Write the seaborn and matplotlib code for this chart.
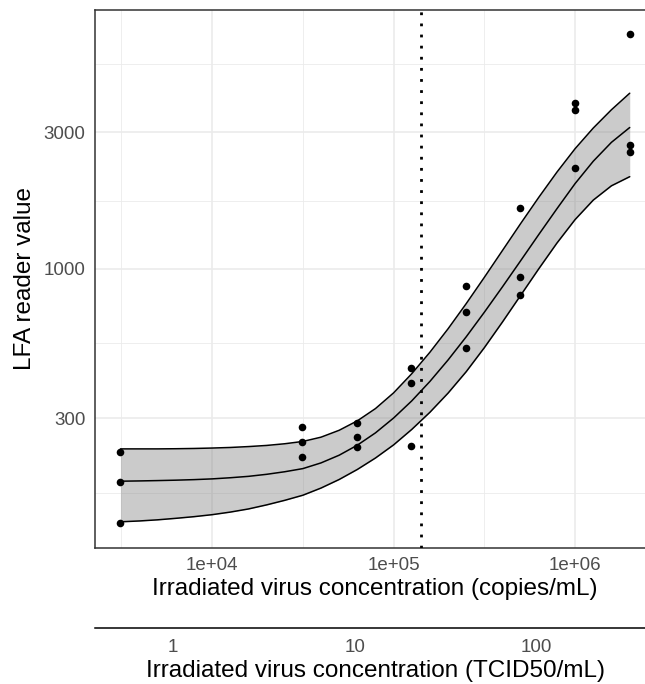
import numpy as np
import pandas as pd
import matplotlib
matplotlib.use("Agg")
import matplotlib.pyplot as plt
from matplotlib.ticker import NullFormatter
import seaborn as sns

# LFA readings, three replicates per dilution (copies/mL)
dilutions = [3125, 31250, 62500, 125000, 250000, 500000, 1000000, 2000000]
lfa_values = [[229, 180, 129], [279, 248, 219], [289, 258, 238], [448, 398, 239],
              [868, 708, 527], [1630, 939, 811], [3800, 3580, 2260], [6620, 2700, 2560]]

# fitted curve and confidence band
fit_x = [3125, 3981, 5012, 6310, 7943, 10000, 12589, 15849, 19953, 25119,
         31623, 39811, 50119, 63096, 79433, 100000, 125893, 158489, 199526, 251189,
         316228, 398107, 501187, 630957, 794328, 1000000, 1258925, 1584893, 2000000]
fit_mid = [180.7, 181.1, 181.6, 182.2, 183.0, 184.1, 185.8, 187.9, 191.0, 195.0,
           200.0, 209.4, 222.8, 241.5, 266.7, 300.6, 345.1, 403.6, 479.7, 578.1,
           704.7, 865.0, 1067, 1318, 1622, 1986, 2377, 2767, 3119]
fit_upper = [234.4, 234.4, 234.4, 234.7, 235.2, 236.0, 237.1, 238.8, 241.0, 244.3,
             248.9, 257.6, 272.3, 293.8, 324.3, 368.1, 429.5, 510.5, 616.6, 755.1,
             933.3, 1159, 1439, 1778, 2178, 2630, 3105, 3597, 4111]
fit_lower = [130.3, 131.2, 132.4, 134.0, 135.8, 138.0, 140.9, 144.5, 149.3, 154.9,
             161.4, 171.0, 183.2, 198.6, 217.8, 242.1, 274.2, 314.8, 367.3, 436.5,
             529.7, 651.6, 807.2, 1000, 1230, 1486, 1738, 1950, 2099]

lod = 142000            # dotted line
copies_per_tcid50 = 6100

x_ticks = [1e4, 1e5, 1e6]
x_tick_labels = ["1e+04", "1e+05", "1e+06"]
y_ticks = [300, 1000, 3000]
tcid_ticks = [1, 10, 100]

df = pd.DataFrame({
    "copies": np.repeat(dilutions, 3),
    "lfa": np.array(lfa_values).ravel(),
})

sns.set_style("white")
plt.rcParams["font.family"] = ["Liberation Sans", "DejaVu Sans"]

W, H = 645, 684
fig = plt.figure(figsize=(W / 100, H / 100), dpi=100)
left, right, top, bottom = 95, 655.2, 9.6, 547.5
ax = fig.add_axes([left / W, 1 - bottom / H, (right - left) / W, (bottom - top) / H])

ax.fill_between(fit_x, fit_lower, fit_upper, color="#7F7F7F", alpha=0.4, lw=0, zorder=2)
for curve in [fit_lower, fit_mid, fit_upper]:
    sns.lineplot(x=fit_x, y=curve, color="black", lw=1.1, estimator=None, sort=False,
                 ax=ax, zorder=3)
ax.axvline(lod, color="black", lw=2.0, ls=(0, (1, 3)), zorder=4)
sns.scatterplot(data=df, x="copies", y="lfa", color="black", s=30, linewidth=0,
                ax=ax, zorder=5)

ax.set_xscale("log")
ax.set_yscale("log")


def expand(vals):
    lo, hi = np.log10(min(vals)), np.log10(max(vals))
    pad = 0.05 * (hi - lo)
    return 10 ** (lo - pad), 10 ** (hi + pad)


xlim = expand(df["copies"])
ylim = expand(df["lfa"])

ax.set_xticks(x_ticks)
ax.set_xticklabels(x_tick_labels)
ax.set_xticks([10 ** 3.5, 10 ** 4.5, 10 ** 5.5], minor=True)
ax.set_yticks(y_ticks)
ax.set_yticklabels([str(v) for v in y_ticks])
ax.set_yticks([10 ** 2.2157, 10 ** 2.7386, 10 ** 3.2386, 10 ** 3.7157], minor=True)
ax.xaxis.set_minor_formatter(NullFormatter())
ax.yaxis.set_minor_formatter(NullFormatter())
ax.set_xlim(xlim)
ax.set_ylim(ylim)

ax.set_axisbelow(True)
ax.grid(which="major", color="#EBEBEB", lw=1.2)
ax.grid(which="minor", color="#EBEBEB", lw=0.6)
for s in ax.spines.values():
    s.set_color("#333333")
    s.set_linewidth(1.1)

ax.tick_params(which="major", length=4, width=1.0, color="#333333",
               labelsize=13.5, labelcolor="#4D4D4D", pad=3)
ax.tick_params(which="minor", length=0)
ax.set_xlabel("Irradiated virus concentration (copies/mL)", fontsize=17.5,
              color="black", labelpad=3)
ax.set_ylabel("LFA reader value", fontsize=17.5, color="black", labelpad=5)

# second x axis in TCID50 units
ax2 = fig.add_axes([left / W, 1 - 628 / H, (right - left) / W, 0.0001])
ax2.set_xscale("log")
ax2.set_yticks([])
for name in ["top", "left", "right"]:
    ax2.spines[name].set_visible(False)
ax2.spines["bottom"].set_color("black")
ax2.spines["bottom"].set_linewidth(1.1)
ax2.set_xticks([xlim[0] / copies_per_tcid50] + tcid_ticks)
ax2.set_xticklabels([""] + [str(v) for v in tcid_ticks])
ax2.set_xticks([], minor=True)
ax2.set_xlim(xlim[0] / copies_per_tcid50, xlim[1] / copies_per_tcid50)
ax2.tick_params(which="major", length=5, width=1.0, color="black",
                labelsize=13.5, labelcolor="#4D4D4D", pad=3)
ax2.set_xlabel("Irradiated virus concentration (TCID50/mL)", fontsize=17.5,
               color="black", labelpad=3)
ax2.patch.set_alpha(0)

fig.savefig("out.png", dpi=100)
